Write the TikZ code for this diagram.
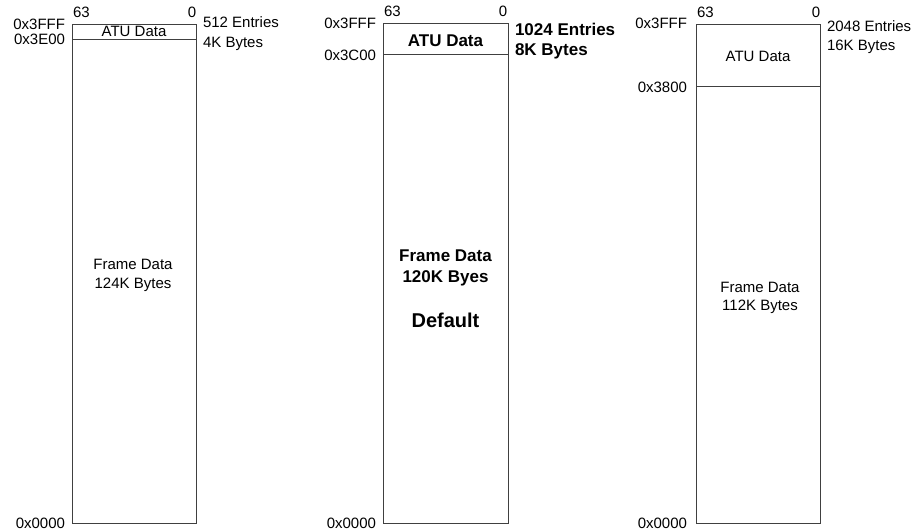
\documentclass[tikz,border=0pt]{standalone}
\usepackage{fontspec}
\setmainfont{Liberation Sans}
\begin{document}
\begin{tikzpicture}[x=1pt,y=-1pt,
  lbl/.style={inner sep=0pt,outer sep=0pt,font=\fontsize{15}{18}\selectfont},
  blbl/.style={inner sep=0pt,outer sep=0pt,font=\fontsize{17}{20}\bfseries\selectfont},
  dlbl/.style={inner sep=0pt,outer sep=0pt,font=\fontsize{20}{24}\bfseries\selectfont},
  memline/.style={draw=black!75,line width=1pt}]
\useasboundingbox (0,0) rectangle (915,531);

% ---------- Box 1 ----------
\coordinate (a-tl) at (72,24);
\coordinate (a-br) at (196,523);
\coordinate (a-dl) at (72,39);
\coordinate (a-dr) at (196,39);
\draw[memline] (a-tl) rectangle (a-br);
\draw[memline] (a-dl) -- (a-dr);
\node[lbl,anchor=base west] (a63) at (73,17) {63};
\node[lbl,anchor=base] (a0) at (192,17) {0};
\node[lbl,anchor=base east] (atop) at (65,29) {0x3FFF};
\node[lbl,anchor=base east] (adiv) at (65,44.5) {0x3E00};
\node[lbl,anchor=base west] (aent) at (203,27.5) {512 Entries};
\node[lbl,anchor=base west] (abyt) at (203,47.5) {4K Bytes};
\node[lbl,anchor=base] (aatu) at (134,36.5) {ATU Data};
\node[lbl,anchor=base] (afr1) at (133,269.5) {Frame Data};
\node[lbl,anchor=base] (afr2) at (133,288) {124K Bytes};
\node[lbl,anchor=base east] (abot) at (65,528.5) {0x0000};

% ---------- Box 2 ----------
\coordinate (b-tl) at (383,23);
\coordinate (b-br) at (508,523);
\coordinate (b-dl) at (383,54);
\coordinate (b-dr) at (508,54);
\draw[memline] (b-tl) rectangle (b-br);
\draw[memline] (b-dl) -- (b-dr);
\node[lbl,anchor=base west] (b63) at (384,16.5) {63};
\node[lbl,anchor=base] (b0) at (503,16.5) {0};
\node[lbl,anchor=base east] (btop) at (376,28.5) {0x3FFF};
\node[lbl,anchor=base east] (bdiv) at (376,60) {0x3C00};
\node[blbl,anchor=base west] (bent) at (515,35) {1024 Entries};
\node[blbl,anchor=base west] (bbyt) at (515,55) {8K Bytes};
\node[blbl,anchor=base] (batu) at (445.5,46) {ATU Data};
\node[blbl,anchor=base] (bfr1) at (445.5,261) {Frame Data};
\node[blbl,anchor=base] (bfr2) at (445.5,282.5) {120K Byes};
\node[dlbl,anchor=base] (bdef) at (445.5,327) {Default};
\node[lbl,anchor=base east] (bbot) at (376,528.5) {0x0000};

% ---------- Box 3 ----------
\coordinate (c-tl) at (696,24);
\coordinate (c-br) at (820,523);
\coordinate (c-dl) at (696,86);
\coordinate (c-dr) at (820,86);
\draw[memline] (c-tl) rectangle (c-br);
\draw[memline] (c-dl) -- (c-dr);
\node[lbl,anchor=base west] (c63) at (697,17.5) {63};
\node[lbl,anchor=base] (c0) at (816,17.5) {0};
\node[lbl,anchor=base east] (ctop) at (687,28.5) {0x3FFF};
\node[lbl,anchor=base east] (cdiv) at (687,92) {0x3800};
\node[lbl,anchor=base west] (cent) at (827,31) {2048 Entries};
\node[lbl,anchor=base west] (cbyt) at (827,50.5) {16K Bytes};
\node[lbl,anchor=base] (catu) at (758,61) {ATU Data};
\node[lbl,anchor=base] (cfr1) at (760,292.5) {Frame Data};
\node[lbl,anchor=base] (cfr2) at (760,310.5) {112K Bytes};
\node[lbl,anchor=base east] (cbot) at (687,528.5) {0x0000};
\end{tikzpicture}
\end{document}
